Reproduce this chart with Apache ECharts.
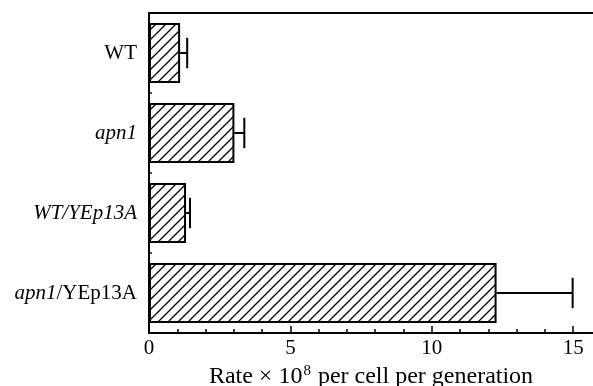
<!DOCTYPE html>
<html><head><meta charset="utf-8">
<script src="https://cdn.jsdelivr.net/npm/echarts@6/dist/echarts.min.js"></script>
<style>html,body{margin:0;padding:0;background:#fff}#c{width:593px;height:386px}</style>
</head><body><div id="c"></div>
<script>
const categories = ['WT', 'apn1', 'WT/YEp13A', 'apn1/YEp13A'];
const categoryLabels = ['{r|WT}', '{i|apn1}', '{i|WT/YEp13A}', '{i|apn1}{r|/YEp13A}'];
const rates = [1.1, 3.02, 1.31, 12.29];
const errorEnds = [1.35, 3.37, 1.45, 14.98];
const minorTicks = [0,1,2,3,4,5,6,7,8,9,10,11,12,13,14,15];
const majorTicks = [0,5,10,15];

const tile = document.createElement('canvas');
tile.width = 10; tile.height = 10;
const g = tile.getContext('2d');
g.fillStyle = '#fff'; g.fillRect(0,0,10,10);
g.strokeStyle = '#000'; g.lineWidth = 1.3;
g.beginPath();
g.moveTo(-2,12); g.lineTo(12,-2);
g.moveTo(-2,2); g.lineTo(2,-2);
g.moveTo(8,12); g.lineTo(12,8);
g.stroke();

const serif = '"Liberation Serif", "DejaVu Serif", serif';
const chart = echarts.init(document.getElementById('c'), null, {renderer:'canvas'});
const xBase = {type:'value', min:0, max:15.7, gridIndex:0};
chart.setOption({
  animation:false,
  backgroundColor:'#fff',
  grid:{left:149, right:0, top:13, bottom:53, containLabel:false, outerBoundsMode:'none'},
  xAxis:[
    Object.assign({}, xBase, {
      position:'bottom',
      axisLine:{show:true, lineStyle:{color:'#000', width:2}},
      axisTick:{show:true, inside:true, length:4, customValues:minorTicks, lineStyle:{color:'#000', width:1.5}},
      axisLabel:{customValues:majorTicks, color:'#000', fontFamily:serif, fontSize:21, margin:5},
      splitLine:{show:false},
      name:'{a|Rate × 10}{s|8}{a| per cell per generation}',
      nameLocation:'middle', nameGap:30,
      nameTextStyle:{rich:{
        a:{fontFamily:serif, fontSize:24, color:'#000'},
        s:{fontFamily:serif, fontSize:15, color:'#000', padding:[0,1,10,1]}
      }}
    }),
    Object.assign({}, xBase, {
      position:'bottom',
      axisLine:{show:false},
      axisTick:{show:true, inside:true, length:7, customValues:majorTicks, lineStyle:{color:'#000', width:1.5}},
      axisLabel:{show:false}, splitLine:{show:false}
    }),
    Object.assign({}, xBase, {
      position:'top',
      axisLine:{show:true, lineStyle:{color:'#000', width:2}},
      axisTick:{show:false}, axisLabel:{show:false}, splitLine:{show:false}
    })
  ],
  yAxis:{
    type:'category', data:categories, inverse:true,
    axisLine:{show:true, lineStyle:{color:'#000', width:2}},
    axisTick:{show:true, inside:true, length:3, lineStyle:{color:'#000', width:1.5}},
    axisLabel:{
      color:'#000', margin:12,
      formatter:(v, i) => categoryLabels[i],
      rich:{
        r:{fontFamily:serif, fontSize:21, color:'#000'},
        i:{fontFamily:serif, fontSize:21, fontStyle:'italic', color:'#000'}
      }
    }
  },
  series:[
    {
      type:'bar', data:rates, barCategoryGap:'25%',
      itemStyle:{color:{image:tile, repeat:'repeat'}, borderColor:'#000', borderWidth:2}
    },
    {
      type:'custom',
      data: rates.map((r,i) => [r, errorEnds[i], i]),
      encode:{x:[0,1], y:2},
      renderItem:(params, api) => {
        const i = api.value(2);
        const p0 = api.coord([api.value(0), i]);
        const p1 = api.coord([api.value(1), i]);
        const h = api.size([0,1])[1] * 0.38;
        const st = {stroke:'#000', lineWidth:2, fill:null};
        return {type:'group', children:[
          {type:'line', shape:{x1:p0[0], y1:p0[1], x2:p1[0], y2:p1[1]}, style:st},
          {type:'line', shape:{x1:p1[0], y1:p1[1]-h/2, x2:p1[0], y2:p1[1]+h/2}, style:st}
        ]};
      },
      z:5
    }
  ]
});
</script></body></html>
